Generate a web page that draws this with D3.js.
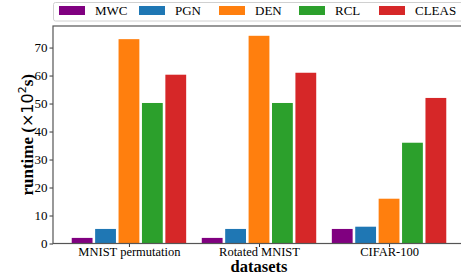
<!DOCTYPE html>
<html>
<head>
<meta charset="utf-8">
<script src="https://cdn.jsdelivr.net/npm/d3@7"></script>
<style>
  body { margin: 0; background: #fff; }
  text { font-family: "Liberation Serif", "DejaVu Serif", serif; fill: #000; }
</style>
</head>
<body>
<div id="chart"></div>
<script>
// data
var datasets = ['MNIST permutation', 'Rotated MNIST', 'CIFAR-100'];
var methods = ['MWC', 'PGN', 'DEN', 'RCL', 'CLEAS'];
var colors = ['#800080', '#1f77b4', '#ff7f0e', '#2ca02c', '#d62728'];
var MWC = [2, 2, 5.2];
var PGN = [5.2, 5.2, 6];
var DEN = [73, 74.2, 16];
var RCL = [50.2, 50.2, 36];
var CLEAS = [60.3, 61, 52];
var yTicks = [0, 10, 20, 30, 40, 50, 60, 70];

var series = [MWC, PGN, DEN, RCL, CLEAS];

var width = 461, height = 275;
var svg = d3.select('#chart').append('svg')
  .attr('width', width)
  .attr('height', height);

var pLeft = 53, pTop = 26, pBottom = 243.5, pRight = 465;

var barStep = 0.18, barW = 0.16;
var x = d3.scaleLinear().domain([-0.584, 2.584]).range([pLeft, pRight]);
var y = d3.scaleLinear().domain([0, 77.7]).range([pBottom, pTop]);

// bars
var g = svg.append('g');
series.forEach(function (vals, i) {
  g.selectAll('.bar' + i)
    .data(vals)
    .enter()
    .append('rect')
    .attr('x', function (d, j) { return x(j + (i - 2) * barStep - barW / 2); })
    .attr('width', x(barW) - x(0))
    .attr('y', function (d) { return y(d); })
    .attr('height', function (d) { return y(0) - y(d); })
    .attr('fill', colors[i]);
});

// y axis
var yAxis = svg.append('g')
  .attr('transform', 'translate(' + pLeft + ',0)')
  .call(d3.axisLeft(y).tickValues(yTicks).tickSize(3.5).tickPadding(2).tickFormat(d3.format('d')));
yAxis.select('.domain').remove();
yAxis.selectAll('line').attr('stroke', '#000').attr('stroke-width', 0.8);
yAxis.selectAll('text').style('font-size', '13px').style('font-family', '"Liberation Serif", serif');

// x axis
var xAxis = svg.append('g')
  .attr('transform', 'translate(0,' + pBottom + ')')
  .call(d3.axisBottom(x).tickValues([0, 1, 2]).tickSize(3.5).tickPadding(0)
    .tickFormat(function (d) { return datasets[d]; }));
xAxis.select('.domain').remove();
xAxis.selectAll('line').attr('stroke', '#000').attr('stroke-width', 0.8);
xAxis.selectAll('text').style('font-size', '12.5px').style('font-family', '"Liberation Serif", serif');

// frame
svg.append('rect')
  .attr('x', pLeft).attr('y', pTop)
  .attr('width', pRight - pLeft).attr('height', pBottom - pTop)
  .attr('fill', 'none')
  .attr('stroke', '#555')
  .attr('stroke-width', 1.2);

// axis labels
svg.append('text')
  .attr('x', (pLeft + pRight) / 2)
  .attr('y', 271.5)
  .attr('text-anchor', 'middle')
  .style('font-size', '16.5px')
  .style('font-weight', 'bold')
  .text('datasets');

var yl = svg.append('text')
  .attr('transform', 'translate(33,' + (pTop + pBottom) / 2 + ') rotate(-90)')
  .attr('text-anchor', 'middle')
  .style('font-size', '17px')
  .style('font-weight', 'bold');
yl.append('tspan').text('runtime (');
yl.append('tspan').style('font-family', '"DejaVu Sans", sans-serif').style('font-weight', 'normal')
  .style('font-size', '16px').text('\u00d710');
yl.append('tspan').attr('dy', -7).style('font-family', '"DejaVu Sans", sans-serif')
  .style('font-weight', 'normal').style('font-size', '11px').text('2');
yl.append('tspan').attr('dy', 7).text('s)');

// legend
var lg = svg.append('g');
lg.append('rect')
  .attr('x', 53.5).attr('y', 2.5)
  .attr('width', 420).attr('height', 18.5)
  .attr('rx', 2)
  .attr('fill', '#fff')
  .attr('stroke', '#d0d0d0');
methods.forEach(function (m, i) {
  lg.append('rect')
    .attr('x', 59 + i * 80).attr('y', 6)
    .attr('width', 26).attr('height', 9)
    .attr('fill', colors[i]);
  lg.append('text')
    .attr('x', 95 + i * 80).attr('y', 15)
    .style('font-size', '13px')
    .text(m);
});
</script>
</body>
</html>
